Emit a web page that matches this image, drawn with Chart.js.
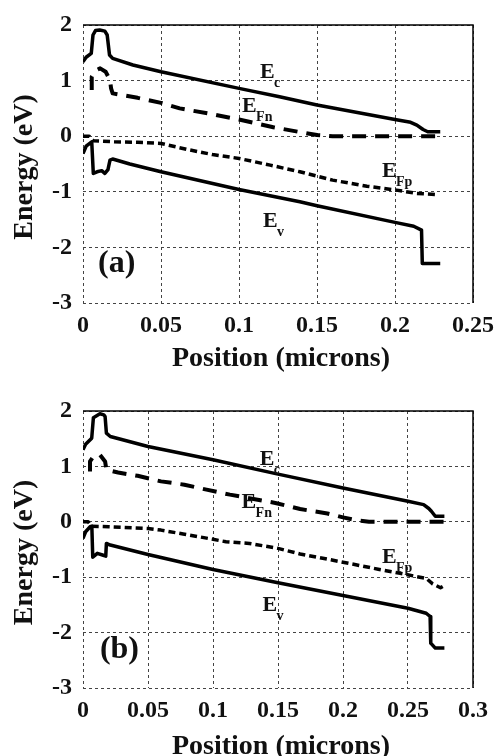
<!DOCTYPE html>
<html>
<head>
<meta charset="utf-8">
<script src="https://cdn.jsdelivr.net/npm/chart.js@4.4.1/dist/chart.umd.min.js"></script>
<style>
  html, body { margin: 0; padding: 0; background: #fff; }
  .panel { position: absolute; left: 0; width: 499px; height: 378px; }
  #wrapA { top: 0; }
  #wrapB { top: 378px; }
</style>
</head>
<body>
<div class="panel" id="wrapA"><canvas id="chartA" width="499" height="378"></canvas></div>
<div class="panel" id="wrapB"><canvas id="chartB" width="499" height="378"></canvas></div>
<script>
// ---- panel (a) ----
const ecA_x = [0, 0.002, 0.0053, 0.0064, 0.008, 0.0107, 0.014, 0.0155, 0.017, 0.019, 0.032, 0.05, 0.1, 0.126, 0.15, 0.2, 0.21, 0.214, 0.218, 0.221, 0.229];
const ecA_y = [1.34, 1.42, 1.49, 1.82, 1.90, 1.91, 1.89, 1.82, 1.46, 1.40, 1.28, 1.16, 0.86, 0.71, 0.56, 0.30, 0.25, 0.20, 0.12, 0.08, 0.08];
const efnA_x = [0.0056, 0.0056, 0.008, 0.011, 0.0145, 0.0173, 0.018, 0.019, 0.035, 0.05, 0.062, 0.08, 0.1, 0.122, 0.14, 0.15, 0.16, 0.228];
const efnA_y = [0.83, 1.07, 1.18, 1.22, 1.16, 1.01, 0.86, 0.77, 0.69, 0.60, 0.50, 0.41, 0.30, 0.16, 0.07, 0.02, 0, 0];
const efpA_x = [0, 0.004, 0.0066, 0.02, 0.035, 0.05, 0.067, 0.083, 0.1, 0.12, 0.139, 0.16, 0.182, 0.201, 0.214, 0.227];
const efpA_y = [0, 0, -0.08, -0.10, -0.11, -0.13, -0.24, -0.33, -0.40, -0.52, -0.64, -0.79, -0.90, -0.97, -1.03, -1.05];
const evA_x = [0, 0.002, 0.0056, 0.0066, 0.009, 0.012, 0.014, 0.016, 0.0173, 0.019, 0.03, 0.05, 0.1, 0.139, 0.15, 0.2, 0.212, 0.217, 0.2175, 0.229];
const evA_y = [-0.31, -0.18, -0.10, -0.67, -0.64, -0.62, -0.67, -0.60, -0.43, -0.41, -0.50, -0.64, -0.96, -1.18, -1.25, -1.55, -1.62, -1.69, -2.29, -2.29];

// ---- panel (b) ----
const ecB_x = [0, 0.002, 0.0067, 0.008, 0.013, 0.016, 0.017, 0.018, 0.021, 0.05, 0.1, 0.15, 0.2, 0.25, 0.262, 0.266, 0.268, 0.271, 0.278];
const ecB_y = [1.30, 1.40, 1.51, 1.88, 1.95, 1.93, 1.90, 1.60, 1.54, 1.36, 1.12, 0.86, 0.61, 0.37, 0.31, 0.24, 0.19, 0.10, 0.10];
const efnB_x = [0.0054, 0.0054, 0.008, 0.013, 0.017, 0.018, 0.027, 0.042, 0.06, 0.078, 0.095, 0.113, 0.148, 0.167, 0.188, 0.2, 0.21, 0.22, 0.278];
const efnB_y = [0.91, 1.09, 1.18, 1.21, 1.09, 0.94, 0.89, 0.83, 0.73, 0.67, 0.58, 0.49, 0.34, 0.23, 0.15, 0.08, 0.03, 0, 0];
const efpB_x = [0, 0.004, 0.0064, 0.02, 0.04, 0.05, 0.06, 0.077, 0.094, 0.11, 0.128, 0.15, 0.167, 0.198, 0.228, 0.244, 0.257, 0.264, 0.269, 0.275, 0.278];
const efpB_y = [0, 0, -0.08, -0.09, -0.11, -0.12, -0.15, -0.22, -0.29, -0.36, -0.39, -0.48, -0.58, -0.72, -0.86, -0.93, -0.99, -1.02, -1.12, -1.19, -1.15];
const evB_x = [0, 0.002, 0.0055, 0.0068, 0.0075, 0.011, 0.015, 0.0175, 0.018, 0.021, 0.05, 0.1, 0.15, 0.2, 0.25, 0.264, 0.267, 0.2675, 0.271, 0.278];
const evB_y = [-0.30, -0.18, -0.09, -0.08, -0.64, -0.57, -0.60, -0.62, -0.39, -0.42, -0.59, -0.86, -1.10, -1.33, -1.56, -1.65, -1.71, -2.19, -2.28, -2.28];

const yTicks = [-3, -2, -1, 0, 1, 2];
const xMaxA = 0.25, xMaxB = 0.3, xStep = 0.05;

// curve labels: [main, subscript, x, y] (anchor in data units)
const labelsA = [['E', 'c', 0.1135, 1.045], ['E', 'Fn', 0.102, 0.43], ['E', 'Fp', 0.1917, -0.74], ['E', 'v', 0.1154, -1.64]];
const labelsB = [['E', 'c', 0.136, 1.03], ['E', 'Fn', 0.122, 0.25], ['E', 'Fp', 0.230, -0.74], ['E', 'v', 0.138, -1.61]];

const SERIF = "'Liberation Serif', 'Times New Roman', serif";

function pts(xs, ys) {
    return xs.map((x, i) => ({ x: x, y: ys[i] }));
}

function makeSets(ec, efn, efp, ev) {
    const base = { pointRadius: 0, borderColor: '#000', tension: 0, fill: false, borderJoinStyle: 'round', spanGaps: false };
    return [
        Object.assign({ label: 'Ec', data: ec, borderWidth: 3.5 }, base),
        Object.assign({ label: 'EFn', data: efn, borderWidth: 4, borderDash: [14, 9] }, base),
        Object.assign({ label: 'EFp', data: efp, borderWidth: 3.5, borderDash: [7, 4] }, base),
        Object.assign({ label: 'Ev', data: ev, borderWidth: 3.5 }, base)
    ];
}

// frame, titles and in-plot labels
const decor = {
    id: 'decor',
    afterDraw(chart, args, o) {
        const ctx = chart.ctx, a = chart.chartArea;
        const xs = chart.scales.x, ys = chart.scales.y;
        ctx.save();
        ctx.strokeStyle = '#000';
        ctx.lineWidth = 1.5;
        ctx.beginPath();
        ctx.moveTo(a.left, a.top);
        ctx.lineTo(a.right, a.top);
        ctx.lineTo(a.right, a.bottom);
        ctx.stroke();

        ctx.fillStyle = '#111';
        ctx.textAlign = 'left';
        ctx.textBaseline = 'alphabetic';
        o.labels.forEach(l => {
            const px = xs.getPixelForValue(l[2]), py = ys.getPixelForValue(l[3]);
            ctx.font = 'bold 22px ' + SERIF;
            ctx.fillText(l[0], px, py);
            ctx.font = 'bold 14px ' + SERIF;
            ctx.fillText(l[1], px + 14, py + 9);
        });

        ctx.font = 'bold 32px ' + SERIF;
        ctx.fillText(o.tag, xs.getPixelForValue(o.tagPos[0]), ys.getPixelForValue(o.tagPos[1]));

        ctx.font = 'bold 28px ' + SERIF;
        ctx.textAlign = 'center';
        ctx.fillText('Position (microns)', (a.left + a.right) / 2 + 3, o.xTitleY);
        ctx.translate(32, (a.top + a.bottom) / 2 + 3);
        ctx.rotate(-Math.PI / 2);
        ctx.fillText('Energy (eV)', 0, 0);
        ctx.restore();
    }
};

function makeChart(id, sets, xMax, top, axisH, labels, tag, tagPos, xTitleY) {
    const ctx = document.getElementById(id).getContext('2d');
    return new Chart(ctx, {
        type: 'line',
        data: { datasets: sets },
        plugins: [decor],
        options: {
            responsive: false,
            animation: false,
            events: [],
            layout: { padding: { top: top, right: 26, left: 0, bottom: 0 } },
            plugins: {
                legend: { display: false },
                tooltip: { enabled: false },
                decor: { labels: labels, tag: tag, tagPos: tagPos, xTitleY: xTitleY }
            },
            scales: {
                x: {
                    type: 'linear',
                    min: 0,
                    max: xMax,
                    afterFit: s => { s.height = axisH; s.paddingLeft = 0; s.paddingRight = 0; },
                    border: { display: false, dash: [3, 3] },
                    grid: { color: '#444', lineWidth: 1, drawTicks: false },
                    ticks: {
                        stepSize: xStep,
                        autoSkip: false,
                        maxRotation: 0,
                        padding: 8,
                        color: '#111',
                        font: { family: SERIF, size: 24, weight: 'bold' },
                        callback: v => String(Number(v.toFixed(2)))
                    }
                },
                y: {
                    min: yTicks[0],
                    max: yTicks[yTicks.length - 1],
                    afterFit: s => { s.width = 83; s.paddingTop = 0; s.paddingBottom = 0; },
                    border: { display: false, dash: [3, 3] },
                    grid: { color: '#444', lineWidth: 1, drawTicks: false },
                    ticks: {
                        stepSize: 1,
                        padding: 11,
                        color: '#111',
                        font: { family: SERIF, size: 24, weight: 'bold' },
                        callback: v => String(v)
                    }
                }
            }
        }
    });
}

makeChart('chartA',
    makeSets(pts(ecA_x, ecA_y), pts(efnA_x, efnA_y), pts(efpA_x, efpA_y), pts(evA_x, evA_y)),
    xMaxA, 25, 75, labelsA, '(a)', [0.0096, -2.45], 366);

makeChart('chartB',
    makeSets(pts(ecB_x, ecB_y), pts(efnB_x, efnB_y), pts(efpB_x, efpB_y), pts(evB_x, evB_y)),
    xMaxB, 33, 68, labelsB, '(b)', [0.013, -2.46], 376);
</script>
</body>
</html>
